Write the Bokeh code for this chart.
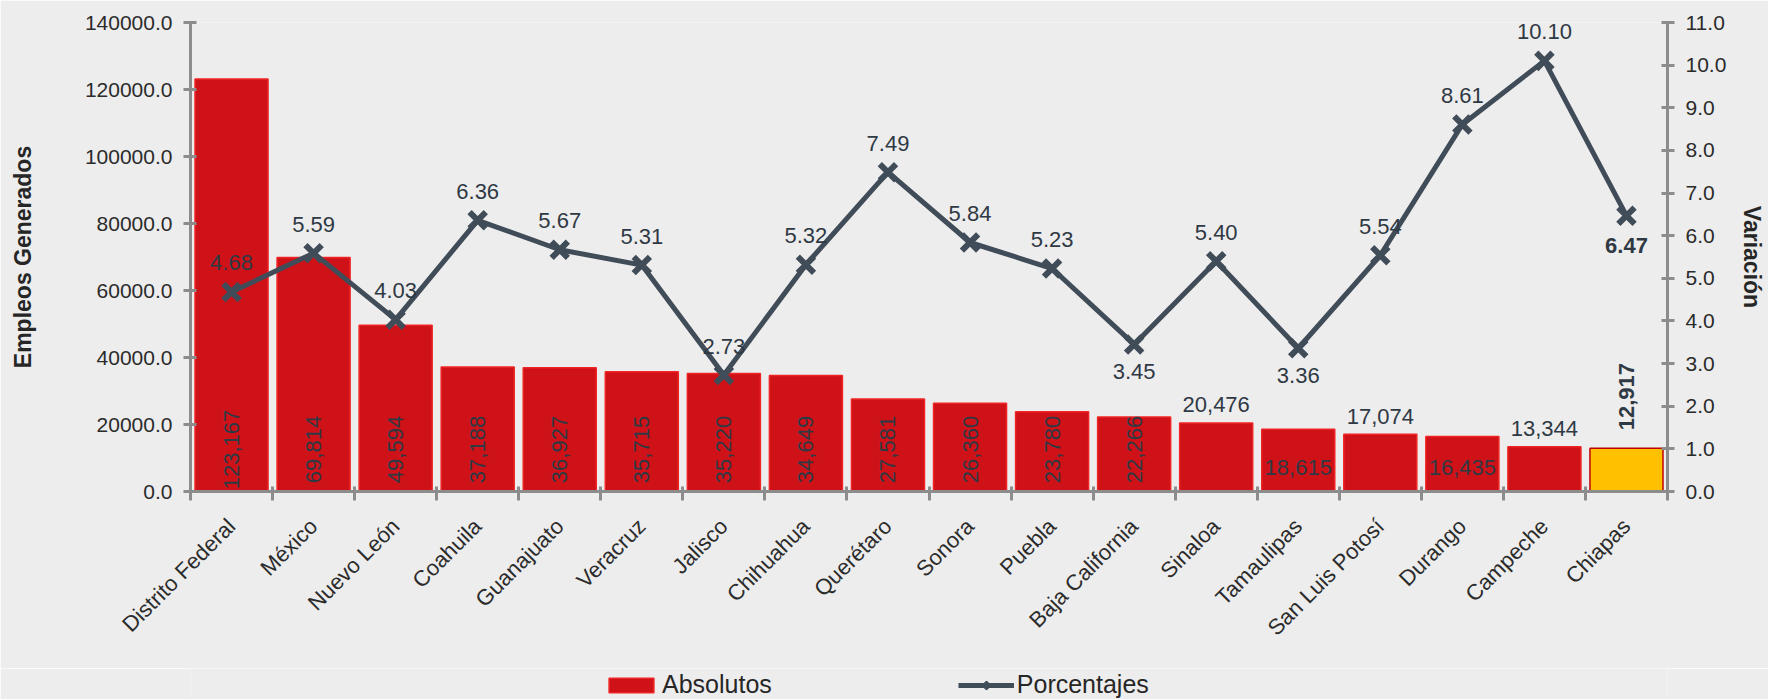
import math
from bokeh.plotting import figure
from bokeh.layouts import column
from bokeh.models import (ColumnDataSource, Range1d, LinearAxis, FixedTicker,
                          NumeralTickFormatter, Legend, LegendItem)
from bokeh.embed import file_html
from bokeh.resources import INLINE
from bokeh.core.properties import value

# ---------------- data ----------------
estados = ["Distrito Federal", "México", "Nuevo León", "Coahuila", "Guanajuato",
           "Veracruz", "Jalisco", "Chihuahua", "Querétaro", "Sonora", "Puebla",
           "Baja California", "Sinaloa", "Tamaulipas", "San Luis Potosí",
           "Durango", "Campeche", "Chiapas"]
absolutos = [123167, 69814, 49594, 37188, 36927, 35715, 35220, 34649, 27581,
             26360, 23780, 22266, 20476, 18615, 17074, 16435, 13344, 12917]
porcentajes = [4.68, 5.59, 4.03, 6.36, 5.67, 5.31, 2.73, 5.32, 7.49, 5.84,
               5.23, 3.45, 5.40, 3.36, 5.54, 8.61, 10.10, 6.47]
left_ticks = [0, 20000, 40000, 60000, 80000, 100000, 120000, 140000]
right_ticks = [0, 1, 2, 3, 4, 5, 6, 7, 8, 9, 10, 11]
series_names = ["Absolutos", "Porcentajes"]

# label placement groups (style only)
vert_idx = list(range(12))
above_idx = [12, 14, 16]
inside_idx = [13, 15]
bold_idx = [17]
pct_below_idx = [11, 13]

FNAME = "Liberation Sans"
FONT = value(FNAME)
TXT = "#2f3944"
AX = "#8c8c8c"
BG = "#ededed"
LINE = "#414c59"
RED = "#cf1118"
RED_EDGE = "#f02424"

n = len(estados)
xs = [i + 0.5 for i in range(n)]
highlight = n - 1

fill = ["#ffc000" if i == highlight else RED for i in range(n)]
edge = ["#c00000" if i == highlight else RED_EDGE for i in range(n)]
src = ColumnDataSource(dict(x=xs, top=absolutos, fill=fill, edge=edge))

W = 1768
H_MAIN = 668
H_LEG = 31

p = figure(width=W, height=H_MAIN, x_range=Range1d(0, n), y_range=Range1d(0, 140000),
           output_backend="svg", toolbar_location=None,
           min_border_left=190, min_border_right=98, min_border_top=22,
           min_border_bottom=177, background_fill_color=BG, border_fill_color=BG,
           outline_line_color=None)
p.xgrid.visible = False
p.ygrid.visible = False
p.extra_y_ranges = {"pct": Range1d(0, 11)}

# left axis
ya = p.yaxis[0]
ya.ticker = FixedTicker(ticks=left_ticks)
ya.formatter = NumeralTickFormatter(format="0.0")
ya.axis_label = "Empleos Generados"
ya.axis_label_standoff = 46

# right axis
ra = LinearAxis(y_range_name="pct", ticker=FixedTicker(ticks=right_ticks),
                formatter=NumeralTickFormatter(format="0.0"))
ra.axis_label = "Variación"
ra.axis_label_standoff = 10
p.add_layout(ra, "right")

for ax in (ya, ra):
    ax.axis_line_color = AX
    ax.axis_line_width = 3
    ax.major_tick_line_color = AX
    ax.major_tick_line_width = 3
    ax.major_tick_in = 6
    ax.major_tick_out = 7
    ax.minor_tick_line_color = None
    ax.major_label_standoff = 11
    ax.major_label_text_font = FNAME
    ax.major_label_text_font_size = "21px"
    ax.major_label_text_color = "#2b2b2b"
    ax.axis_label_text_font = FNAME
    ax.axis_label_text_font_size = "23px"
    ax.axis_label_text_font_style = "bold"
    ax.axis_label_text_color = "#262626"

# bottom axis: labels at centres, tick marks at category boundaries
xa = p.xaxis[0]
xa.ticker = FixedTicker(ticks=xs, minor_ticks=list(range(n + 1)))
xa.major_label_overrides = {x: s for x, s in zip(xs, estados)}
xa.major_label_orientation = math.pi / 4
xa.major_tick_line_color = None
xa.major_tick_in = 0
xa.major_tick_out = 0
xa.minor_tick_line_color = AX
xa.minor_tick_line_width = 3
xa.minor_tick_in = 5
xa.minor_tick_out = 9
xa.axis_line_color = AX
xa.axis_line_width = 3
xa.major_label_standoff = 22
xa.major_label_text_font = FNAME
xa.major_label_text_font_size = "22px"
xa.major_label_text_color = "#2b2b2b"

# bars
p.vbar(x="x", top="top", width=0.89, source=src, fill_color="fill",
       line_color="edge", line_width=1.5)

# line
p.line(xs, porcentajes, y_range_name="pct", line_color=LINE, line_width=5)
p.scatter(xs, porcentajes, y_range_name="pct", marker="x", size=23,
          line_color=LINE, line_width=6)

def txt(idx, ys, texts, **kw):
    base = dict(text_font=FONT, text_font_size="22px", text_color=TXT,
                text_align="center", text_baseline="middle")
    base.update(kw)
    p.text(x=[xs[i] for i in idx], y=ys, text=texts, **base)

# bar labels
txt(vert_idx, [0] * len(vert_idx), [f"{absolutos[i]:,}" for i in vert_idx],
    angle=math.pi / 2, y_offset=-42)
txt(above_idx, [absolutos[i] for i in above_idx], [f"{absolutos[i]:,}" for i in above_idx],
    y_offset=-18)
txt(inside_idx, [0] * len(inside_idx), [f"{absolutos[i]:,}" for i in inside_idx],
    y_offset=-24)
txt(bold_idx, [absolutos[i] for i in bold_idx], [f"{absolutos[i]:,}" for i in bold_idx],
    angle=math.pi / 2, text_align="left", y_offset=-18, text_font_style="bold")

# percentage labels
above_pct = [i for i in range(n) if i not in pct_below_idx and i not in bold_idx]
txt(above_pct, [porcentajes[i] for i in above_pct], [f"{porcentajes[i]:.2f}" for i in above_pct],
    y_range_name="pct", y_offset=-29)
txt(pct_below_idx, [porcentajes[i] for i in pct_below_idx],
    [f"{porcentajes[i]:.2f}" for i in pct_below_idx], y_range_name="pct", y_offset=27)
txt(bold_idx, [porcentajes[i] for i in bold_idx], [f"{porcentajes[i]:.2f}" for i in bold_idx],
    y_range_name="pct", y_offset=30, text_font_style="bold")

# ---------------- legend strip ----------------
# (its frame is aligned with the main frame by the column layout)
lg = figure(width=W, height=H_LEG, x_range=Range1d(0, 1), y_range=Range1d(0, 1),
            output_backend="svg", toolbar_location=None,
            x_axis_location=None, y_axis_location=None,
            min_border=0, background_fill_color=BG, border_fill_color=BG,
            outline_line_color=None)
lg.xgrid.visible = False
lg.ygrid.visible = False
# proxy glyphs, placed outside the visible range: they only feed the legend swatches
px, py = [-10], [-10]
r_bar = lg.vbar(x=px, top=py, width=1, fill_color=RED, line_color=RED_EDGE, line_width=1.5)
r_ln = lg.line(x=px, y=py, line_color=LINE, line_width=5)
r_sc = lg.scatter(x=px, y=py, marker="x", size=23, line_color=LINE, line_width=6)

legend = Legend(items=[LegendItem(label=series_names[0], renderers=[r_bar]),
                       LegendItem(label=series_names[1], renderers=[r_ln, r_sc])],
                orientation="horizontal", location=(413, 0),
                glyph_width=56, glyph_height=18, label_standoff=3, spacing=186,
                padding=0, margin=0, border_line_color=None,
                background_fill_alpha=0, label_text_font=FNAME,
                label_text_font_size="25px", label_text_color="#262626")
lg.add_layout(legend)

layout = column(p, lg, spacing=0)
open("out.html", "w").write(file_html(layout, INLINE))
